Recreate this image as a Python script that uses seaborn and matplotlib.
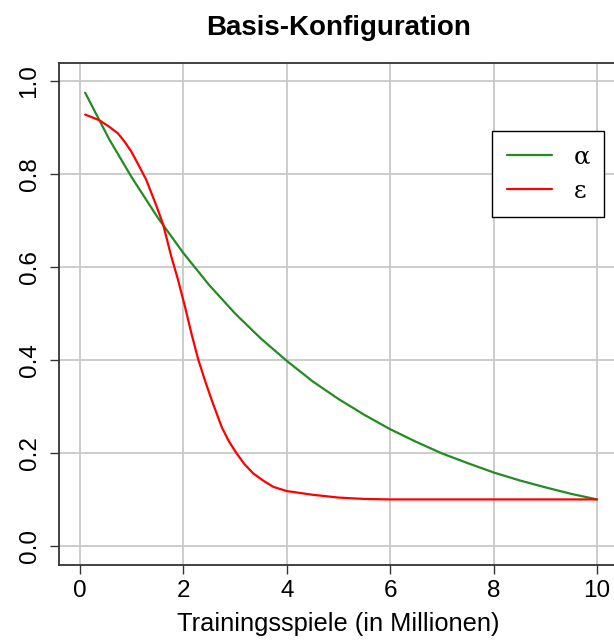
import numpy as np
import pandas as pd
import matplotlib
matplotlib.use("Agg")
import matplotlib.pyplot as plt
import seaborn as sns
from matplotlib.lines import Line2D

# ---- data ----
alpha_x = [0.1, 0.57, 1.0, 1.5, 2.0, 2.5, 3.0, 3.5, 4.0, 4.5, 5.0, 5.5, 6.0, 6.5,
           7.0, 7.5, 8.0, 8.5, 9.0, 9.5, 10.0]
alpha_y = [0.975, 0.874, 0.793, 0.707, 0.630, 0.561, 0.500, 0.446, 0.398, 0.354,
           0.316, 0.282, 0.251, 0.224, 0.199, 0.178, 0.158, 0.141, 0.126, 0.112, 0.100]

eps_x = [0.1, 0.37, 0.55, 0.73, 0.86, 0.99, 1.13, 1.28, 1.47, 1.61, 1.76, 1.89,
         2.03, 2.16, 2.29, 2.42, 2.55, 2.74, 2.88, 3.03, 3.18, 3.35, 3.55, 3.74,
         4.0, 4.5, 5.0, 5.5, 6.0, 7.0, 8.0, 9.0, 10.0]
eps_y = [0.928, 0.916, 0.903, 0.888, 0.870, 0.849, 0.820, 0.788, 0.734, 0.691,
         0.625, 0.575, 0.515, 0.455, 0.400, 0.355, 0.313, 0.256, 0.225, 0.199,
         0.176, 0.156, 0.140, 0.127, 0.118, 0.110, 0.104, 0.101, 0.100, 0.100,
         0.100, 0.100, 0.100]

series_labels = ["α", "ε"]
series_colors = ["#228B22", "#FF0000"]
x_ticks = [0, 2, 4, 6, 8, 10]
y_ticks = [0.0, 0.2, 0.4, 0.6, 0.8, 1.0]
title = "Basis-Konfiguration"
x_label = "Trainingsspiele (in Millionen)"

df = pd.concat([
    pd.DataFrame({"x": alpha_x, "y": alpha_y, "s": series_labels[0]}),
    pd.DataFrame({"x": eps_x, "y": eps_y, "s": series_labels[1]}),
])

sns.set_style("white")
plt.rcParams["font.family"] = ["Liberation Sans", "DejaVu Sans"]
plt.rcParams["text.color"] = "black"
plt.rcParams["axes.labelcolor"] = "black"
plt.rcParams["xtick.color"] = "black"
plt.rcParams["ytick.color"] = "black"

W, H = 614, 644
fig = plt.figure(figsize=(W / 100, H / 100), dpi=100)
ax_l, ax_t, ax_w, ax_h = 59.3, 62.5, 558.4, 502.0
ax = fig.add_axes([ax_l / W, 1 - (ax_t + ax_h) / H, ax_w / W, ax_h / H])

ax.set_xlim(-0.4, 10.4)
ax.set_ylim(-0.04, 1.04)
ax.set_xticks(x_ticks)
ax.set_yticks(y_ticks)
ax.set_xticklabels([str(t) for t in x_ticks])
ax.set_yticklabels([f"{t:.1f}" for t in y_ticks], rotation=90, va="center")
ax.grid(True, color="#C8C8C8", linewidth=1.3)
ax.set_axisbelow(True)

sns.lineplot(data=df, x="x", y="y", hue="s",
             palette=dict(zip(series_labels, series_colors)),
             linewidth=1.6, ax=ax, legend=False, sort=False, estimator=None)

for sp in ax.spines.values():
    sp.set_color("#333333")
    sp.set_linewidth(1.3)

ax.tick_params(axis="both", direction="out", length=6.5, width=1.0, color="#333333",
               labelcolor="black", labelsize=17.5, left=True, bottom=True)
ax.tick_params(axis="x", pad=5)
ax.tick_params(axis="y", pad=7)
ax.set_xlabel(x_label, fontsize=18.3, labelpad=7, color="black")
ax.set_ylabel("")
ax.set_title(title, fontsize=20, fontweight="bold", pad=20, color="black")

handles = [Line2D([], [], color=c, lw=1.6) for c in series_colors]
leg = ax.legend(handles, series_labels, loc="upper left",
                bbox_to_anchor=(492 / W, 1 - 131 / H), bbox_transform=fig.transFigure,
                borderaxespad=0, frameon=True, fancybox=False,
                prop={"family": ["DejaVu Serif"], "size": 17.5},
                handlelength=1.85, handletextpad=0.9, borderpad=0.6, labelspacing=0.45)
leg.get_frame().set_edgecolor("black")
leg.get_frame().set_linewidth(1.0)
leg.get_frame().set_alpha(1)
for t in leg.get_texts():
    t.set_color("black")

fig.savefig("out.png", dpi=100)
